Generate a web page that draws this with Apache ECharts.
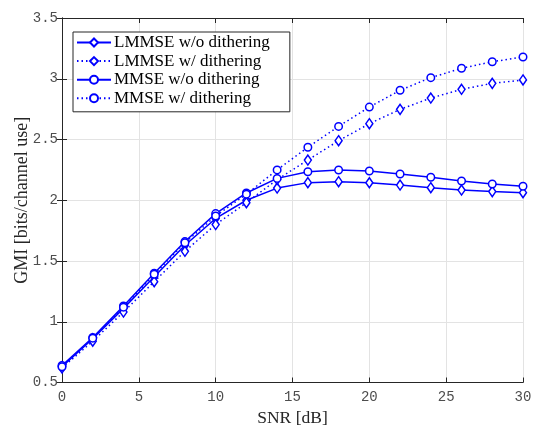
<!DOCTYPE html>
<html>
<head>
<meta charset="utf-8">
<script src="https://cdn.jsdelivr.net/npm/echarts@6/dist/echarts.min.js"></script>
<style>
  html, body { margin: 0; padding: 0; background: #fff; }
  #chart { width: 536px; height: 426px; }
</style>
</head>
<body>
<div id="chart"></div>
<script>
// SNR sweep in dB
const snr = [0, 2, 4, 6, 8, 10, 12, 14, 16, 18, 20, 22, 24, 26, 28, 30];

// GMI [bits/channel use] per receiver
const lmmseNoDither = [0.63, 0.86, 1.11, 1.37, 1.63, 1.85, 2.00, 2.10, 2.145, 2.153, 2.144, 2.125, 2.103, 2.084, 2.071, 2.062];
const lmmseDither   = [0.62, 0.84, 1.08, 1.33, 1.58, 1.80, 1.98, 2.17, 2.331, 2.490, 2.630, 2.748, 2.841, 2.913, 2.962, 2.990];
const mmseNoDither  = [0.64, 0.87, 1.13, 1.40, 1.66, 1.89, 2.06, 2.18, 2.235, 2.249, 2.241, 2.216, 2.189, 2.158, 2.134, 2.115];
const mmseDither    = [0.63, 0.865, 1.12, 1.39, 1.65, 1.87, 2.05, 2.25, 2.436, 2.608, 2.767, 2.905, 3.009, 3.086, 3.140, 3.179];

const seriesNames = ['LMMSE w/o dithering', 'LMMSE w/ dithering', 'MMSE w/o dithering', 'MMSE w/ dithering'];

const xTicks = { min: 0, max: 30, interval: 5 };
const yTicks = { min: 0.5, max: 3.5, interval: 0.5 };

const BLUE = '#0000ff';
const DIAMOND = 'path://M0,-10L7,0L0,10L-7,0Z';
const DOTTED = [1.5, 3];

function pairs(ys) { return snr.map((x, i) => [x, ys[i]]); }

function makeSeries(name, ys, symbol, size, dotted) {
  return {
    name: name,
    type: 'line',
    data: pairs(ys),
    clip: false,
    symbol: symbol,
    symbolSize: size,
    showAllSymbol: true,
    lineStyle: { color: BLUE, width: 1.5, type: dotted ? DOTTED : 'solid' },
    itemStyle: { color: '#ffffff', borderColor: BLUE, borderWidth: 1.5 },
    emphasis: { disabled: true },
    z: 3
  };
}

const tickLabelFont = { fontFamily: 'Liberation Mono', fontSize: 14, color: '#4d4d4d' };
const axisLineStyle = { color: '#262626', width: 1 };
const gridLineStyle = { color: '#e3e3e3', width: 1 };

const chart = echarts.init(document.getElementById('chart'), null, { renderer: 'canvas' });

chart.setOption({
  animation: false,
  backgroundColor: '#ffffff',
  grid: { left: 62, right: 13, top: 18, bottom: 43.5, containLabel: false, outerBoundsMode: 'none' },
  xAxis: [
    {
      type: 'value', min: xTicks.min, max: xTicks.max, interval: xTicks.interval,
      name: 'SNR [dB]', nameLocation: 'middle', nameGap: 26,
      nameTextStyle: { fontFamily: 'Liberation Serif', fontSize: 17.5, color: '#262626' },
      axisLine: { show: true, lineStyle: axisLineStyle },
      axisTick: { show: true, inside: true, length: 5, lineStyle: axisLineStyle },
      axisLabel: Object.assign({ margin: 8 }, tickLabelFont),
      splitLine: { show: true, lineStyle: gridLineStyle }
    },
    {
      type: 'value', position: 'top', min: xTicks.min, max: xTicks.max, interval: xTicks.interval,
      axisLine: { show: true, lineStyle: axisLineStyle },
      axisTick: { show: true, inside: true, length: 5, lineStyle: axisLineStyle },
      axisLabel: { show: false },
      splitLine: { show: false }
    }
  ],
  yAxis: [
    {
      type: 'value', min: yTicks.min, max: yTicks.max, interval: yTicks.interval,
      name: 'GMI [bits/channel use]', nameLocation: 'middle', nameGap: 31, nameRotate: 90,
      nameMoveOverlap: false,
      nameTextStyle: { fontFamily: 'Liberation Serif', fontSize: 18, color: '#262626' },
      axisLine: { show: true, lineStyle: axisLineStyle },
      axisTick: { show: true, inside: true, length: 5, lineStyle: axisLineStyle },
      axisLabel: Object.assign({ margin: 4, formatter: v => String(v) }, tickLabelFont),
      splitLine: { show: true, lineStyle: gridLineStyle }
    },
    {
      type: 'value', position: 'right', min: yTicks.min, max: yTicks.max, interval: yTicks.interval,
      axisLine: { show: true, lineStyle: axisLineStyle },
      axisTick: { show: true, inside: true, length: 5, lineStyle: axisLineStyle },
      axisLabel: { show: false },
      splitLine: { show: false }
    }
  ],
  legend: {
    orient: 'vertical',
    left: 73, top: 32,
    padding: [2, 20, 5, 3],
    itemGap: 1.6,
    itemWidth: 34, itemHeight: 10,
    backgroundColor: '#ffffff',
    borderColor: '#262626', borderWidth: 1, borderRadius: 0,
    textStyle: { fontFamily: 'Liberation Serif', fontSize: 17, color: '#000000', padding: [0, 0, 0, -2] },
    data: seriesNames
  },
  series: [
    makeSeries(seriesNames[0], lmmseNoDither, DIAMOND, [7, 10], false),
    makeSeries(seriesNames[1], lmmseDither, DIAMOND, [7, 10], true),
    makeSeries(seriesNames[2], mmseNoDither, 'circle', 7.5, false),
    makeSeries(seriesNames[3], mmseDither, 'circle', 7.5, true)
  ]
});
</script>
</body>
</html>
